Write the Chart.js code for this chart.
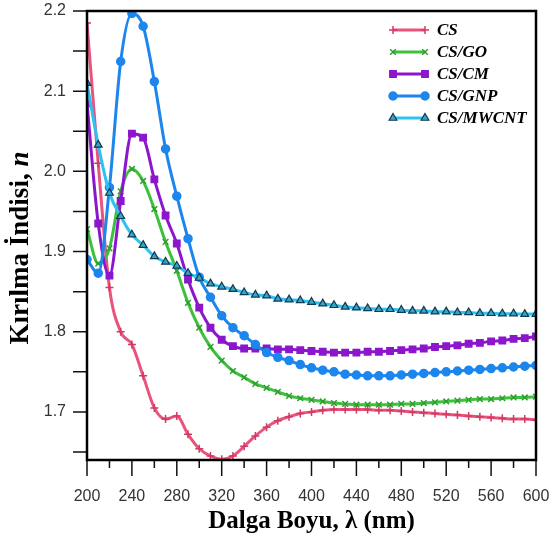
<!DOCTYPE html>
<html>
<head>
<meta charset="utf-8">
<script src="https://cdn.jsdelivr.net/npm/chart.js@4.4.1/dist/chart.umd.min.js"></script>
<style>
  html, body { margin: 0; padding: 0; background: #fff; }
</style>
</head>
<body>
<canvas id="chart" width="555" height="533"></canvas>
<script>
// wavelength (nm)
const wavelengths = [200, 210, 220, 230, 240, 250, 260, 270, 280, 290, 300, 310, 320, 330, 340, 350, 360, 370, 380, 390, 400,
  410, 420, 430, 440, 450, 460, 470, 480, 490, 500, 510, 520, 530, 540, 550, 560, 570, 580, 590, 600];

// refractive index n
const cs = [2.185, 2.01, 1.855, 1.80, 1.784, 1.745, 1.705, 1.691, 1.695, 1.672, 1.654, 1.645, 1.641, 1.645, 1.657, 1.670, 1.681, 1.689, 1.694, 1.698, 1.700,
  1.702, 1.703, 1.703, 1.703, 1.703, 1.702, 1.702, 1.701, 1.700, 1.699, 1.698, 1.697, 1.696, 1.695, 1.694, 1.693, 1.692, 1.691, 1.691, 1.690];
const csGO = [1.928, 1.885, 1.904, 1.975, 2.003, 1.988, 1.953, 1.912, 1.876, 1.836, 1.805, 1.781, 1.764, 1.751, 1.743, 1.735, 1.730, 1.725, 1.720, 1.717, 1.715,
  1.713, 1.711, 1.710, 1.709, 1.709, 1.709, 1.709, 1.710, 1.710, 1.711, 1.712, 1.713, 1.714, 1.715, 1.716, 1.716, 1.717, 1.718, 1.718, 1.719];
const csCM = [2.085, 1.935, 1.870, 1.963, 2.047, 2.042, 1.990, 1.945, 1.910, 1.865, 1.830, 1.805, 1.790, 1.782, 1.779, 1.779, 1.779, 1.778, 1.778, 1.777, 1.776,
  1.775, 1.774, 1.774, 1.774, 1.775, 1.775, 1.776, 1.777, 1.778, 1.779, 1.781, 1.782, 1.783, 1.785, 1.786, 1.788, 1.789, 1.791, 1.792, 1.794];
const csGNP = [1.890, 1.873, 1.980, 2.137, 2.197, 2.181, 2.112, 2.028, 1.969, 1.916, 1.868, 1.843, 1.820, 1.805, 1.795, 1.784, 1.774, 1.768, 1.764, 1.759, 1.755,
  1.752, 1.750, 1.747, 1.746, 1.745, 1.745, 1.745, 1.746, 1.747, 1.748, 1.749, 1.750, 1.751, 1.752, 1.753, 1.754, 1.755, 1.756, 1.757, 1.758];
const csMWCNT = [2.110, 2.033, 1.973, 1.944, 1.921, 1.908, 1.894, 1.887, 1.882, 1.873, 1.867, 1.860, 1.856, 1.853, 1.849, 1.846, 1.845, 1.841, 1.840, 1.839, 1.837,
  1.835, 1.833, 1.831, 1.830, 1.829, 1.828, 1.828, 1.827, 1.826, 1.826, 1.825, 1.825, 1.824, 1.824, 1.823, 1.823, 1.8225, 1.8225, 1.822, 1.822];

const seriesNames = ["CS", "CS/GO", "CS/CM", "CS/GNP", "CS/MWCNT"];

// axis ticks
const xLabelTicks = [200, 240, 280, 320, 360, 400, 440, 480, 520, 560, 600];
const xMinorTicks = [220, 260, 300, 340, 380, 420, 460, 500, 540, 580];
const yLabelTicks = [1.7, 1.8, 1.9, 2.0, 2.1, 2.2];
const yMinorTicks = [1.65, 1.75, 1.85, 1.95, 2.05, 2.15];

const styles = [
  { color: "#E9547C", point: "cross", fill: "#E9547C", border: "#D23A66", radius: 4 },
  { color: "#3DC13D", point: "crossRot", fill: "#3DC13D", border: "#2E9E2E", radius: 4 },
  { color: "#8C16CC", point: "rect", fill: "#8C16CC", border: "#8C16CC", radius: 4.5 },
  { color: "#1C86EE", point: "circle", fill: "#1C86EE", border: "#1C86EE", radius: 4 },
  { color: "#2CC3F0", point: "triangle", fill: "#3AA4C6", border: "#0E3A55", radius: 4.5 }
];
const allSeries = [cs, csGO, csCM, csGNP, csMWCNT];

const datasets = allSeries.map((vals, i) => ({
  label: seriesNames[i],
  data: wavelengths.map((w, j) => ({ x: w, y: vals[j] })),
  borderColor: styles[i].color,
  borderWidth: 3,
  cubicInterpolationMode: "monotone",
  pointStyle: styles[i].point,
  pointRadius: styles[i].radius,
  pointBackgroundColor: styles[i].fill,
  pointBorderColor: styles[i].border,
  pointBorderWidth: i === 4 ? 1.2 : 1.5,
  order: 4 - i
}));

function noScalePadding(s) {
  s.paddingTop = 0;
  s.paddingBottom = 0;
  s.paddingLeft = 0;
  s.paddingRight = 0;
}

// frame, outward tick marks, axis titles and the legend
const decorations = {
  id: "decorations",
  afterDraw(chart) {
    const ctx = chart.ctx;
    const area = chart.chartArea;
    const xs = chart.scales.x, ys = chart.scales.y;
    ctx.save();
    ctx.strokeStyle = "#111";
    ctx.lineWidth = 1.5;
    ctx.beginPath();
    xLabelTicks.forEach(v => {
      const px = xs.getPixelForValue(v);
      ctx.moveTo(px, area.bottom); ctx.lineTo(px, area.bottom + 16);
    });
    xMinorTicks.forEach(v => {
      const px = xs.getPixelForValue(v);
      ctx.moveTo(px, area.bottom); ctx.lineTo(px, area.bottom + 8);
    });
    yLabelTicks.concat(yMinorTicks).forEach(v => {
      const py = ys.getPixelForValue(v);
      ctx.moveTo(area.left - 14, py); ctx.lineTo(area.left, py);
    });
    ctx.stroke();

    ctx.strokeStyle = "#000";
    ctx.lineWidth = 2.5;
    ctx.strokeRect(area.left, area.top, area.right - area.left, area.bottom - area.top);

    // x title
    ctx.fillStyle = "#000";
    ctx.textAlign = "center";
    ctx.textBaseline = "middle";
    ctx.font = "bold 25px 'Liberation Serif'";
    ctx.fillText("Dalga Boyu, \u03bb (nm)", (area.left + area.right) / 2, 522);

    // y title with italic n
    ctx.save();
    ctx.translate(21, 248);
    ctx.rotate(-Math.PI / 2);
    const part1 = "K\u0131r\u0131lma \u0130ndisi, ";
    const part2 = "n";
    ctx.font = "bold 27px 'Liberation Serif'";
    const w1 = ctx.measureText(part1).width;
    ctx.font = "bold italic 27px 'Liberation Serif'";
    const w2 = ctx.measureText(part2).width;
    const start = -(w1 + w2) / 2;
    ctx.textAlign = "left";
    ctx.font = "bold 27px 'Liberation Serif'";
    ctx.fillText(part1, start, 0);
    ctx.font = "bold italic 27px 'Liberation Serif'";
    ctx.fillText(part2, start + w1, 0);
    ctx.restore();

    // legend
    const rowY = [30, 52, 74, 96, 118];
    ctx.font = "bold italic 17px 'Liberation Serif'";
    ctx.textAlign = "left";
    ctx.textBaseline = "middle";
    datasets.forEach((ds, i) => {
      const y = rowY[i];
      ctx.strokeStyle = ds.borderColor;
      ctx.lineWidth = 3;
      ctx.beginPath();
      ctx.moveTo(393, y); ctx.lineTo(425, y);
      ctx.stroke();
      [393, 425].forEach(x => {
        ctx.fillStyle = ds.pointBackgroundColor;
        ctx.strokeStyle = ds.pointBorderColor;
        ctx.lineWidth = ds.pointBorderWidth;
        Chart.helpers.drawPoint(ctx, { pointStyle: ds.pointStyle, radius: ds.pointRadius, borderWidth: ds.pointBorderWidth, rotation: 0 }, x, y);
      });
      ctx.fillStyle = "#000";
      ctx.fillText(ds.label, 437, y + 1);
    });
    ctx.restore();
  }
};

new Chart(document.getElementById("chart"), {
  type: "line",
  data: { datasets },
  options: {
    responsive: false,
    devicePixelRatio: 1,
    animation: false,
    layout: { padding: { top: 11, right: 19, left: 0, bottom: 0 } },
    plugins: { legend: { display: false }, tooltip: { enabled: false } },
    scales: {
      x: {
        type: "linear",
        min: 200,
        max: 600,
        afterBuildTicks: s => { s.ticks = xLabelTicks.map(v => ({ value: v })); },
        afterFit: s => { s.height = 73; noScalePadding(s); },
        grid: { display: false, drawTicks: false },
        border: { display: false },
        ticks: {
          padding: 27,
          color: "#333",
          font: { family: "'Liberation Sans'", size: 16 },
          maxRotation: 0
        }
      },
      y: {
        type: "linear",
        min: 1.64,
        max: 2.2,
        afterBuildTicks: s => { s.ticks = yLabelTicks.map(v => ({ value: v })); },
        afterFit: s => { s.width = 87; noScalePadding(s); },
        grid: { display: false, drawTicks: false },
        border: { display: false },
        ticks: {
          padding: 21,
          color: "#333",
          font: { family: "'Liberation Sans'", size: 16 },
          callback: v => v.toFixed(1)
        }
      }
    }
  },
  plugins: [decorations]
});
</script>
</body>
</html>
